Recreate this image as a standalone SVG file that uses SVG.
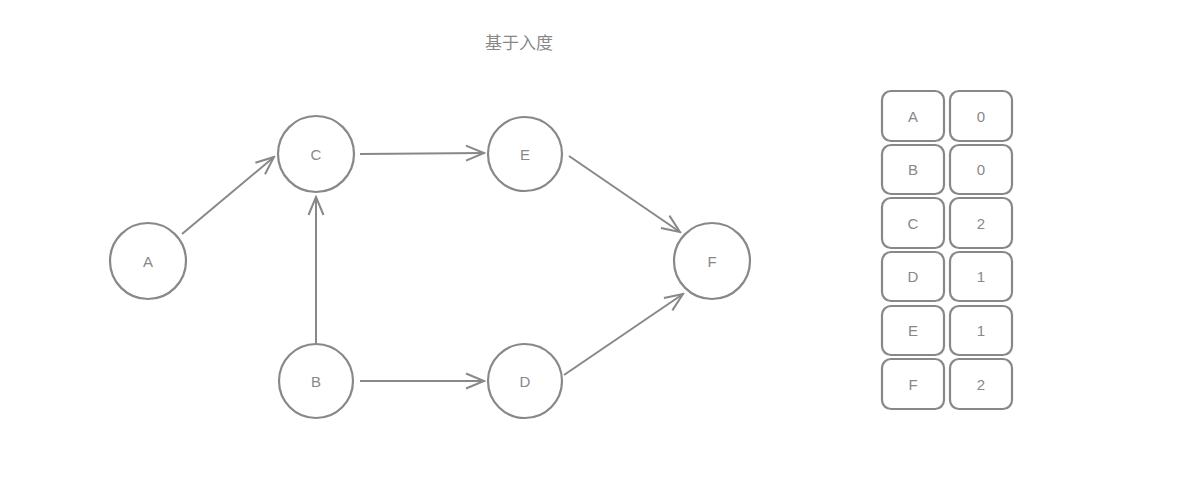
<svg xmlns="http://www.w3.org/2000/svg" width="1194" height="502" viewBox="0 0 1194 502">
<style>
.n{fill:none;stroke:#888;stroke-width:2.2}
.t{font-family:"Liberation Sans","Noto Sans",sans-serif;font-size:15px;fill:#888;text-anchor:middle;dominant-baseline:central}
.e{fill:none;stroke:#888;stroke-width:2}
.cell{fill:none;stroke:#888;stroke-width:2.2}
</style>
<defs>
<marker id="ah" viewBox="0 0 22 22" refX="20" refY="11" markerWidth="22" markerHeight="22" markerUnits="userSpaceOnUse" orient="auto">
<path d="M2 3.5 L20 11 L2 18.5" fill="none" stroke="#888" stroke-width="2"/>
</marker>
</defs>
<rect width="1194" height="502" fill="#fff"/>
<text x="519" y="41" class="t" style="font-family:'Noto Sans CJK SC',sans-serif;font-size:17px">基于入度</text>
<g id="connectors">
<line class="e" x1="182" y1="234" x2="274" y2="157" marker-end="url(#ah)"/>
<line class="e" x1="316" y1="345" x2="316" y2="197" marker-end="url(#ah)"/>
<line class="e" x1="360" y1="154" x2="484" y2="153" marker-end="url(#ah)"/>
<line class="e" x1="569" y1="156" x2="680" y2="232" marker-end="url(#ah)"/>
<line class="e" x1="360" y1="381" x2="484" y2="381" marker-end="url(#ah)"/>
<line class="e" x1="564" y1="375" x2="683" y2="294" marker-end="url(#ah)"/>
</g>
<g id="A"><circle class="n" cx="148" cy="261" r="38"/><text class="t" x="148" y="261">A</text></g>
<g id="C"><circle class="n" cx="316" cy="154" r="38"/><text class="t" x="316" y="154">C</text></g>
<g id="E"><circle class="n" cx="525" cy="154" r="37"/><text class="t" x="525" y="154">E</text></g>
<g id="F"><circle class="n" cx="712" cy="261" r="38"/><text class="t" x="712" y="261">F</text></g>
<g id="B"><circle class="n" cx="316" cy="381" r="37"/><text class="t" x="316" y="381">B</text></g>
<g id="D"><circle class="n" cx="525" cy="381" r="37"/><text class="t" x="525" y="381">D</text></g>
<g id="table">
<g id="row-A"><rect class="cell" x="882" y="91" width="62" height="50" rx="9"/><text class="t" x="913" y="116">A</text><rect class="cell" x="950" y="91" width="62" height="50" rx="9"/><text class="t" x="981" y="116">0</text></g>
<g id="row-B"><rect class="cell" x="882" y="145" width="62" height="49" rx="9"/><text class="t" x="913" y="169">B</text><rect class="cell" x="950" y="145" width="62" height="49" rx="9"/><text class="t" x="981" y="169">0</text></g>
<g id="row-C"><rect class="cell" x="882" y="198" width="62" height="50" rx="9"/><text class="t" x="913" y="223">C</text><rect class="cell" x="950" y="198" width="62" height="50" rx="9"/><text class="t" x="981" y="223">2</text></g>
<g id="row-D"><rect class="cell" x="882" y="252" width="62" height="49" rx="9"/><text class="t" x="913" y="276">D</text><rect class="cell" x="950" y="252" width="62" height="49" rx="9"/><text class="t" x="981" y="276">1</text></g>
<g id="row-E"><rect class="cell" x="882" y="306" width="62" height="49" rx="9"/><text class="t" x="913" y="330">E</text><rect class="cell" x="950" y="306" width="62" height="49" rx="9"/><text class="t" x="981" y="330">1</text></g>
<g id="row-F"><rect class="cell" x="882" y="359" width="62" height="50" rx="9"/><text class="t" x="913" y="384">F</text><rect class="cell" x="950" y="359" width="62" height="50" rx="9"/><text class="t" x="981" y="384">2</text></g>
</g>
</svg>
